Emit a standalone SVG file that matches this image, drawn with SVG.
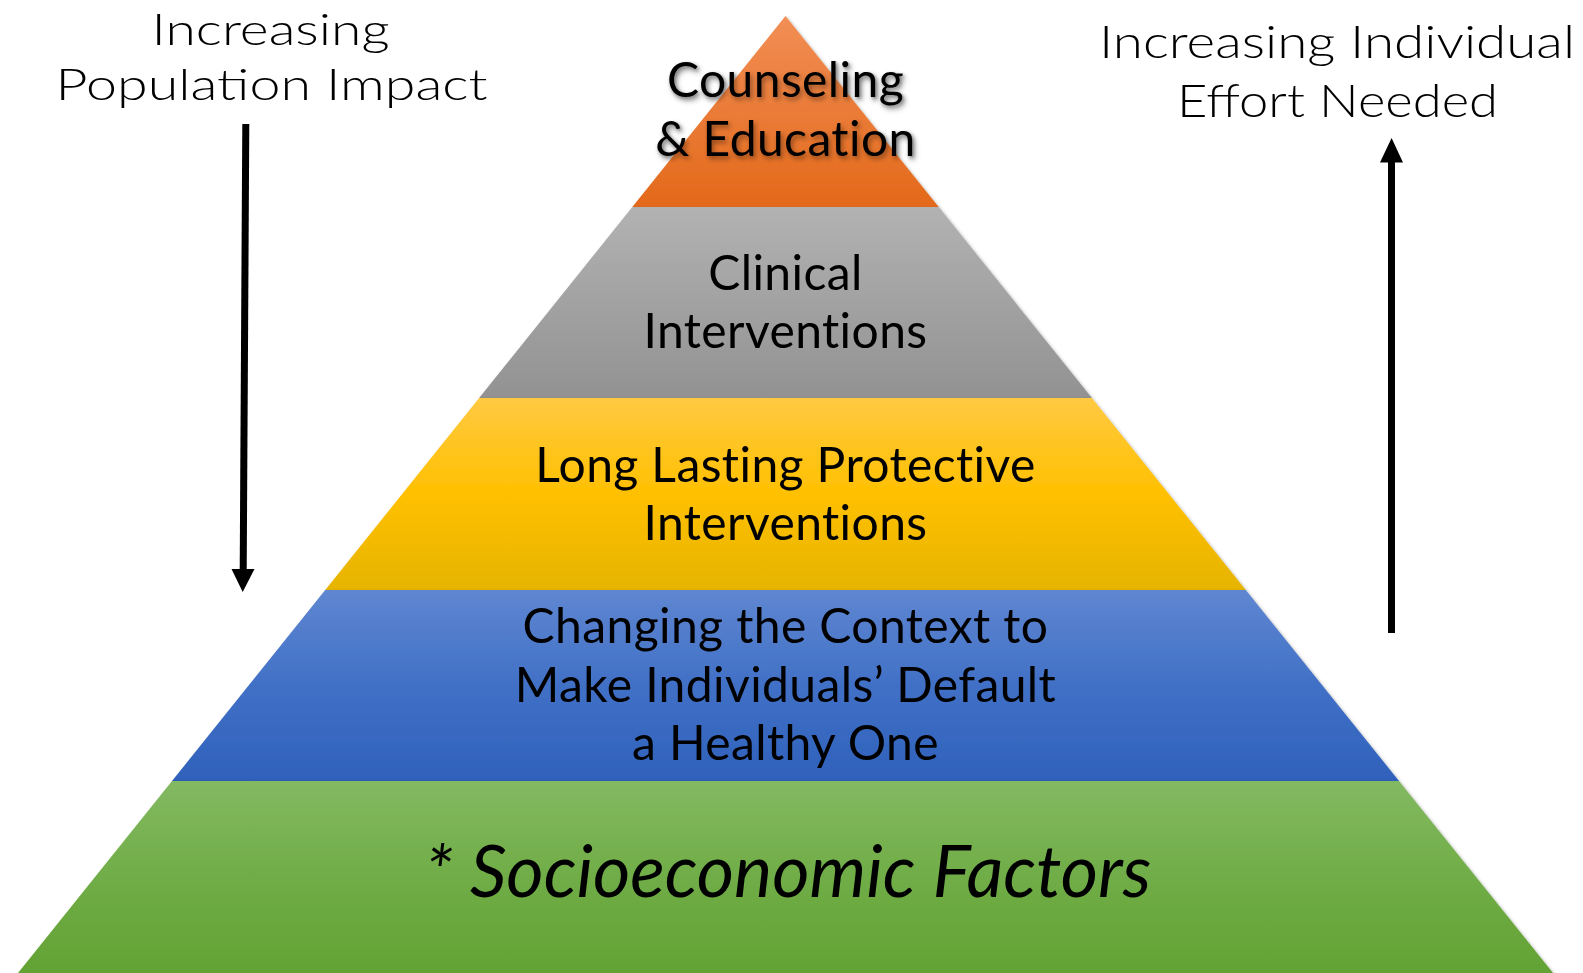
<svg xmlns="http://www.w3.org/2000/svg" width="1583" height="973" viewBox="0 0 1583 973">
  <defs>
    <linearGradient id="gOrange" x1="0" y1="0" x2="0" y2="1">
      <stop offset="0" stop-color="#F28E55"/>
      <stop offset="1" stop-color="#E3691A"/>
    </linearGradient>
    <linearGradient id="gGray" x1="0" y1="0" x2="0" y2="1">
      <stop offset="0" stop-color="#B2B2B2"/>
      <stop offset="1" stop-color="#929292"/>
    </linearGradient>
    <linearGradient id="gGold" x1="0" y1="0" x2="0" y2="1">
      <stop offset="0" stop-color="#FFC942"/>
      <stop offset="0.5" stop-color="#FFC000"/>
      <stop offset="1" stop-color="#E6B400"/>
    </linearGradient>
    <linearGradient id="gBlue" x1="0" y1="0" x2="0" y2="1">
      <stop offset="0" stop-color="#5F87D1"/>
      <stop offset="0.5" stop-color="#4170C6"/>
      <stop offset="1" stop-color="#2F61BB"/>
    </linearGradient>
    <linearGradient id="gGreen" x1="0" y1="0" x2="0" y2="1">
      <stop offset="0" stop-color="#83B962"/>
      <stop offset="0.5" stop-color="#70AD47"/>
      <stop offset="1" stop-color="#63A234"/>
    </linearGradient>
    <filter id="edgeShadow" x="-5%" y="-5%" width="110%" height="110%">
      <feDropShadow dx="1.5" dy="1.5" stdDeviation="1.5" flood-color="#000" flood-opacity="0.3"/>
    </filter>
    <filter id="textShadow" x="-10%" y="-20%" width="120%" height="150%">
      <feDropShadow dx="2" dy="3" stdDeviation="2.5" flood-color="#000" flood-opacity="0.4"/>
    </filter>
  </defs>
  <style>
    .tier { font-family: Lato, "Open Sans", "Liberation Sans", sans-serif; font-size: 48px; letter-spacing: 0.4px; font-variant-ligatures: none; fill: #000; text-anchor: middle; }
    .base { font-family: Lato, "Open Sans", "Liberation Sans", sans-serif; font-size: 72px; font-style: italic; font-variant-ligatures: none; fill: #000; text-anchor: middle; }
    .side { font-family: Lato, "Noto Sans", "Liberation Sans", sans-serif; font-weight: 300; fill: #000; text-anchor: middle; }
    .shaft { stroke: #000; stroke-width: 7; fill: none; }
    .head { fill: #000; }
  </style>

  <rect width="1583" height="973" fill="#FFFFFF"/>

  <!-- pyramid tiers, top to bottom -->
  <g id="tier-counseling" filter="url(#edgeShadow)">
    <polygon points="785.5,16 938.7,207 632.3,207" fill="url(#gOrange)"/>
    <g filter="url(#textShadow)">
      <text class="tier" x="785.5" y="97">Counseling</text>
      <text class="tier" x="785.5" y="156">&amp; Education</text>
    </g>
  </g>

  <g id="tier-clinical" filter="url(#edgeShadow)">
    <polygon points="632.3,207 938.7,207 1091.9,398 479.1,398" fill="url(#gGray)"/>
    <text class="tier" x="785.5" y="290">Clinical</text>
    <text class="tier" x="785.5" y="348">Interventions</text>
  </g>

  <g id="tier-protective" filter="url(#edgeShadow)">
    <polygon points="479.1,398 1091.9,398 1245.8,590 325.2,590" fill="url(#gGold)"/>
    <text class="tier" x="785.5" y="482">Long Lasting Protective</text>
    <text class="tier" x="785.5" y="540">Interventions</text>
  </g>

  <g id="tier-context" filter="url(#edgeShadow)">
    <polygon points="325.2,590 1245.8,590 1399,781 172,781" fill="url(#gBlue)"/>
    <text class="tier" x="785.5" y="643">Changing the Context to</text>
    <text class="tier" x="785.5" y="702">Make Individuals’ Default</text>
    <text class="tier" x="785.5" y="760">a Healthy One</text>
  </g>

  <g id="tier-socioeconomic" filter="url(#edgeShadow)">
    <polygon points="172,781 1399,781 1553,973 18,973" fill="url(#gGreen)"/>
    <text class="base" x="788" y="897">* Socioeconomic Factors</text>
  </g>

  <!-- side captions -->
  <g id="label-population">
    <text class="side" x="270.6" y="45" font-size="44" textLength="238" lengthAdjust="spacingAndGlyphs">Increasing</text>
    <text class="side" x="271.6" y="100" font-size="44" textLength="432" lengthAdjust="spacingAndGlyphs">Population Impact</text>
  </g>
  <g id="label-effort">
    <text class="side" x="1337" y="58" font-size="46" textLength="476" lengthAdjust="spacingAndGlyphs">Increasing Individual</text>
    <text class="side" x="1337.5" y="117" font-size="46" textLength="321" lengthAdjust="spacingAndGlyphs">Effort Needed</text>
  </g>

  <!-- arrows -->
  <g id="connectors">
    <line class="shaft" x1="245.8" y1="124" x2="243.2" y2="570"/>
    <polygon class="head" points="231.5,569 254.5,569 242.7,592"/>
    <line class="shaft" x1="1391.5" y1="633" x2="1391.5" y2="161"/>
    <polygon class="head" points="1380,162.5 1403,162.5 1391.6,138"/>
  </g>
</svg>
